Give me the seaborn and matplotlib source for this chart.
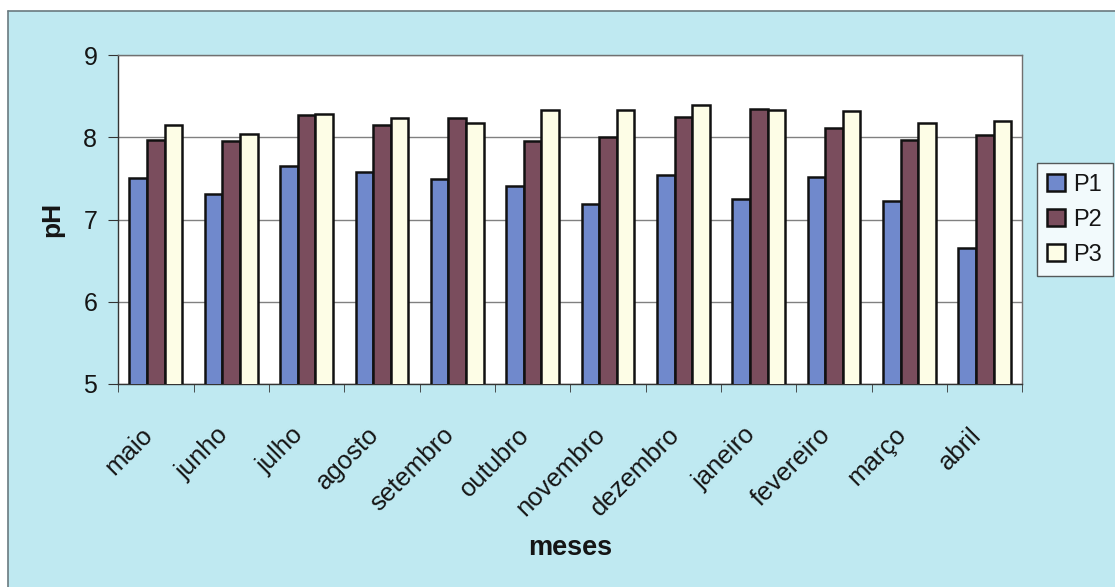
import matplotlib
matplotlib.use("Agg")
import matplotlib.pyplot as plt
import matplotlib.transforms as mtransforms
from matplotlib.patches import Rectangle
import numpy as np
import seaborn as sns
import pandas as pd

meses = ["maio", "junho", "julho", "agosto", "setembro", "outubro",
         "novembro", "dezembro", "janeiro", "fevereiro", "março", "abril"]
p1 = [7.50, 7.31, 7.65, 7.58, 7.49, 7.41, 7.19, 7.54, 7.25, 7.52, 7.22, 6.65]
p2 = [7.97, 7.95, 8.27, 8.15, 8.23, 7.95, 8.00, 8.25, 8.34, 8.11, 7.97, 8.03]
p3 = [8.15, 8.04, 8.29, 8.23, 8.17, 8.33, 8.33, 8.39, 8.33, 8.32, 8.17, 8.20]
pontos = ["P1", "P2", "P3"]

df = pd.DataFrame({
    "mes": meses * 3,
    "ph": p1 + p2 + p3,
    "ponto": [p for p in pontos for _ in meses],
})

sns.set_style("white")
plt.rcParams["font.family"] = ["Liberation Sans", "DejaVu Sans"]
txt = "#151515"

bg = "#bfe9f1"
W, H = 1115, 587
fig = plt.figure(figsize=(W / 100, H / 100), dpi=100, facecolor="white")

# chart area panel with a thin outline on its left and top
x0, y1 = 8 / W, 1 - 11 / H
fig.patches.append(Rectangle((x0, 0), 1 - x0, y1, transform=fig.transFigure,
                             facecolor=bg, edgecolor="none", zorder=-2))
fig.add_artist(plt.Line2D([x0, x0], [0, y1], transform=fig.transFigure,
                          color="#6a7a80", linewidth=1.2))
fig.add_artist(plt.Line2D([x0, 1], [y1, y1], transform=fig.transFigure,
                          color="#6a7a80", linewidth=1.2))

ax = fig.add_axes([0.106, 0.346, 0.811, 0.56])
ax.set_facecolor("white")

cores = ["#7089cc", "#7a4d5d", "#fdfde6"]
sns.barplot(data=df, x="mes", y="ph", hue="ponto", palette=cores,
            width=0.7, gap=0, edgecolor="#111111", linewidth=1.8,
            saturation=1, ax=ax, zorder=3)

ax.set_ylim(5, 9)
ax.set_yticks([5, 6, 7, 8, 9])
ax.yaxis.grid(True, color="#808080", linewidth=1.0, zorder=0)
ax.set_axisbelow(True)
ax.set_xlim(-0.5, len(meses) - 0.5)

for s in ["top", "right"]:
    ax.spines[s].set_color("#707070")
    ax.spines[s].set_linewidth(1.0)
for s in ["left", "bottom"]:
    ax.spines[s].set_color("#333333")
    ax.spines[s].set_linewidth(1.0)

ax.tick_params(axis="y", which="major", length=7, direction="out",
               left=True, labelsize=18, color="#333333", pad=8,
               labelcolor=txt)

# category labels centred, tick marks between categories
ax.set_xticks(range(len(meses)))
ax.set_xticklabels(meses, rotation=45, ha="right", va="center",
                   rotation_mode="anchor")
ax.set_xticks(np.arange(-0.5, len(meses), 1), minor=True)
ax.tick_params(axis="x", which="major", length=0, bottom=True,
               labelsize=18.5, pad=34, labelcolor=txt)
ax.tick_params(axis="x", which="minor", length=6, direction="out",
               bottom=True, color="#333333")
shift = mtransforms.ScaledTranslation(-7 / 100, 0, fig.dpi_scale_trans)
for lab in ax.get_xticklabels():
    lab.set_transform(lab.get_transform() + shift)

ax.set_xlabel("meses", fontsize=19.5, fontweight="bold", labelpad=10,
              color=txt)
ax.set_ylabel("pH", fontsize=19, fontweight="bold", labelpad=14, color=txt)

leg = ax.legend(loc="center left", bbox_to_anchor=(1.0, 0.5),
                frameon=True, fancybox=False, fontsize=17,
                handlelength=0.75, handleheight=0.75, handletextpad=0.35,
                labelspacing=0.55, borderpad=0.45, borderaxespad=0.6)
leg.get_frame().set_edgecolor("#333333")
leg.get_frame().set_linewidth(1.0)
leg.get_frame().set_facecolor("white")
for t in leg.get_texts():
    t.set_color(txt)

fig.savefig("out.png", dpi=100, facecolor="white")
